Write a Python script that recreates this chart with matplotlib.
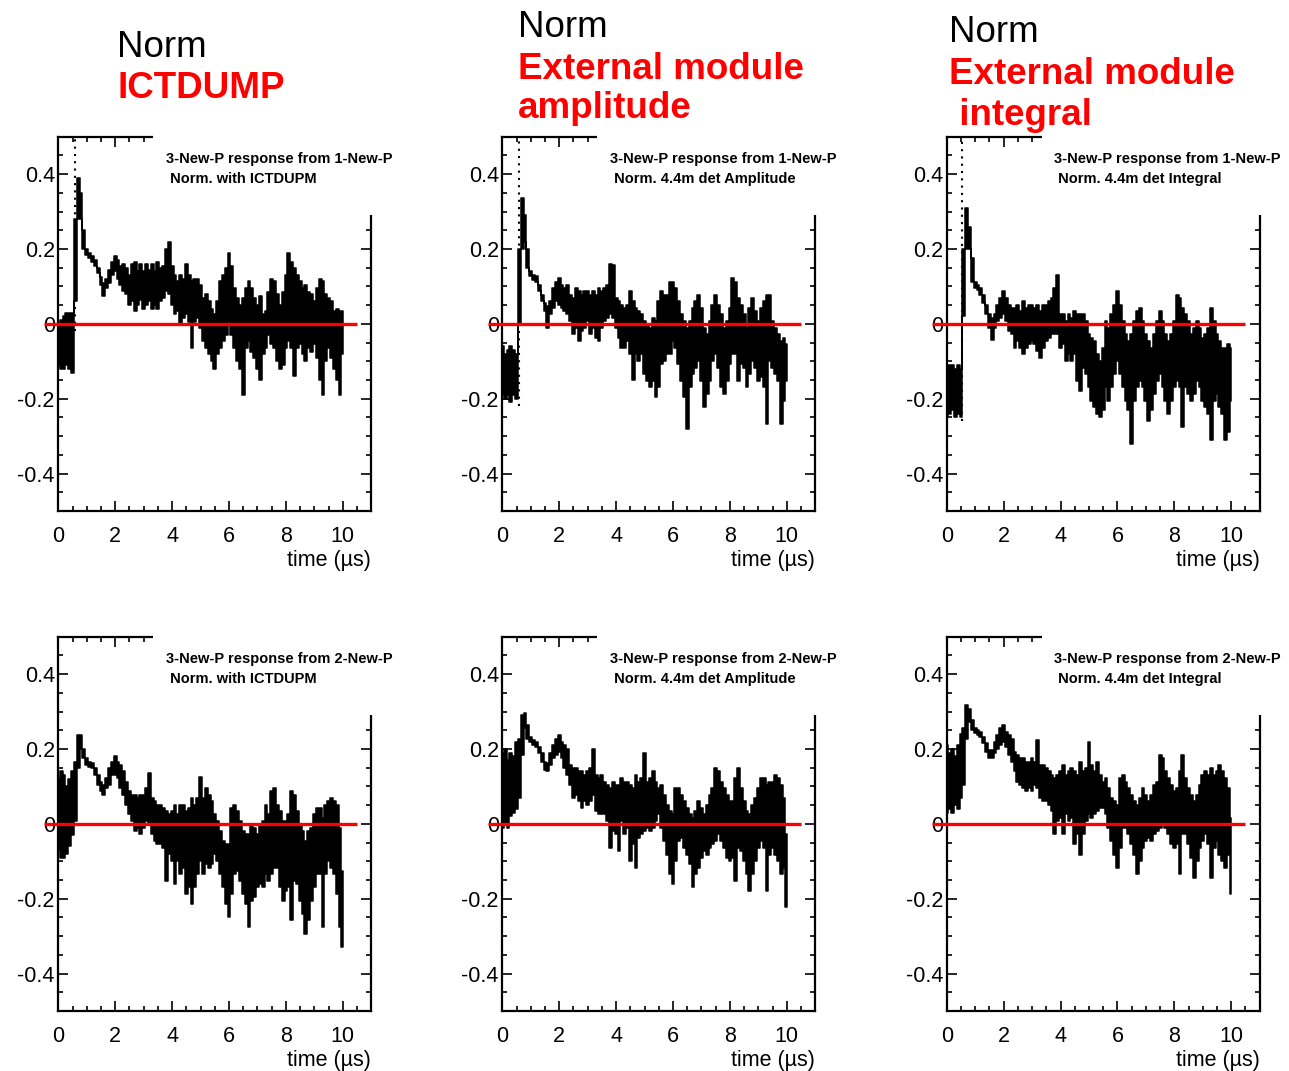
import numpy as np
import matplotlib
matplotlib.use("Agg")
import matplotlib.pyplot as plt
from matplotlib.patches import Rectangle
from matplotlib.ticker import MultipleLocator, FixedLocator

plt.rcParams['font.family'] = ['Liberation Sans', 'DejaVu Sans']
plt.rcParams['axes.unicode_minus'] = False

W, H = 1289, 1071

# sample times (µs), one envelope value every 0.1 µs from 0 to 10
time_us = np.round(np.arange(101) * 0.1, 1)

# per-bin upper / lower envelope of the normalised response
p1_hi = [0.00, 0.01, 0.02, 0.03, 0.03, 0.03, 0.28, 0.39, 0.35, 0.25,
         0.20, 0.19, 0.18, 0.17, 0.15, 0.125, 0.11, 0.12, 0.145, 0.165,
         0.18, 0.17, 0.155, 0.16, 0.15, 0.13, 0.16, 0.165, 0.14, 0.16,
         0.14, 0.16, 0.145, 0.16, 0.14, 0.165, 0.15, 0.155, 0.20, 0.22,
         0.155, 0.13, 0.115, 0.13, 0.12, 0.16, 0.13, 0.115, 0.12, 0.12,
         0.105, 0.07, 0.08, 0.06, 0.04, 0.025, 0.06, 0.115, 0.13, 0.15,
         0.19, 0.155, 0.095, 0.07, 0.05, 0.07, 0.095, 0.115, 0.095, 0.07,
         0.05, 0.075, 0.025, 0.035, 0.085, 0.12, 0.115, 0.08, 0.05, 0.085,
         0.13, 0.19, 0.165, 0.15, 0.13, 0.115, 0.095, 0.105, 0.085, 0.08,
         0.06, 0.095, 0.12, 0.115, 0.08, 0.07, 0.06, 0.035, 0.04, 0.035, 0.035]
p1_lo = [-0.11, -0.12, -0.12, -0.11, -0.12, -0.13, 0.06, 0.28, 0.28, 0.20,
         0.185, 0.175, 0.165, 0.155, 0.135, 0.105, 0.075, 0.095, 0.11, 0.13,
         0.14, 0.12, 0.105, 0.087, 0.08, 0.05, 0.06, 0.035, 0.05, 0.065,
         0.04, 0.05, 0.06, 0.04, 0.05, 0.04, 0.06, 0.07, 0.087, 0.08,
         0.05, 0.025, 0.035, 0.0, 0.015, 0.025, 0.005, -0.065, 0.005, 0.015,
         -0.01, -0.045, -0.065, -0.08, -0.10, -0.12, -0.08, -0.065, -0.045, -0.03,
         0.005, -0.03, -0.065, -0.10, -0.12, -0.19, -0.065, -0.045, -0.075, -0.09,
         -0.12, -0.15, -0.08, -0.065, -0.03, -0.055, -0.065, -0.10, -0.12, -0.11,
         -0.065, -0.045, -0.065, -0.14, -0.065, -0.055, -0.08, -0.10, -0.065, -0.075,
         -0.055, -0.09, -0.15, -0.19, -0.10, -0.065, -0.09, -0.12, -0.15, -0.19, -0.08]

p2_hi = [-0.06, -0.08, -0.07, -0.06, -0.07, -0.08, 0.20, 0.335, 0.29, 0.20,
         0.14, 0.13, 0.127, 0.105, 0.078, 0.056, 0.047, 0.06, 0.095, 0.113,
         0.122, 0.105, 0.095, 0.105, 0.078, 0.07, 0.095, 0.087, 0.078, 0.087,
         0.087, 0.078, 0.087, 0.078, 0.095, 0.087, 0.095, 0.105, 0.16, 0.157,
         0.07, 0.06, 0.05, 0.042, 0.05, 0.087, 0.06, 0.042, 0.034, 0.025,
         0.007, -0.002, -0.01, 0.016, 0.007, 0.06, 0.087, 0.078, 0.078, 0.113,
         0.113, 0.095, 0.06, 0.025, 0.007, -0.01, 0.007, 0.042, 0.06, 0.078,
         0.042, -0.01, -0.028, 0.007, 0.05, 0.078, 0.05, 0.025, -0.01, 0.007,
         0.042, 0.122, 0.113, 0.07, 0.05, 0.025, -0.01, 0.042, 0.07, 0.034,
         0.007, 0.042, 0.06, 0.078, 0.078, 0.007, -0.01, -0.028, -0.046, -0.037, -0.055]
p2_lo = [-0.19, -0.20, -0.19, -0.21, -0.19, -0.20, 0.0, 0.20, 0.22, 0.15,
         0.127, 0.118, 0.113, 0.087, 0.06, 0.034, -0.01, 0.025, 0.042, 0.06,
         0.05, 0.042, 0.034, 0.025, 0.007, -0.028, -0.01, -0.046, -0.02, -0.01,
         0.007, -0.028, -0.01, -0.037, -0.046, -0.01, 0.007, 0.016, 0.025, 0.016,
         -0.01, -0.037, -0.064, -0.064, -0.046, -0.08, -0.15, -0.08, -0.10, -0.08,
         -0.134, -0.152, -0.17, -0.152, -0.196, -0.17, -0.108, -0.10, -0.08, -0.08,
         -0.046, -0.064, -0.108, -0.152, -0.196, -0.28, -0.17, -0.134, -0.117, -0.10,
         -0.152, -0.223, -0.188, -0.152, -0.10, -0.08, -0.117, -0.17, -0.188, -0.152,
         -0.108, -0.08, -0.08, -0.152, -0.108, -0.117, -0.17, -0.134, -0.10, -0.117,
         -0.152, -0.143, -0.17, -0.267, -0.10, -0.117, -0.134, -0.152, -0.267, -0.205, -0.152]

p3_hi = [-0.12, -0.11, -0.11, -0.12, -0.11, -0.12, 0.20, 0.31, 0.26, 0.175,
         0.113, 0.105, 0.095, 0.078, 0.05, 0.025, 0.016, 0.025, 0.05, 0.07,
         0.087, 0.07, 0.05, 0.042, 0.042, 0.05, 0.034, 0.06, 0.042, 0.05,
         0.05, 0.042, 0.05, 0.034, 0.05, 0.05, 0.06, 0.07, 0.095, 0.13,
         0.025, 0.025, 0.007, 0.025, 0.016, 0.034, 0.025, 0.025, 0.025, 0.007,
         -0.028, -0.037, -0.046, -0.08, -0.10, -0.064, 0.007, -0.01, 0.025, 0.05,
         0.087, 0.05, 0.007, -0.028, -0.046, -0.028, 0.007, 0.034, 0.042, 0.007,
         -0.028, -0.046, -0.064, -0.028, 0.007, 0.034, 0.007, -0.028, -0.046, -0.028,
         0.007, 0.078, 0.07, 0.042, 0.025, 0.007, -0.028, -0.01, 0.007, -0.01,
         -0.037, -0.028, -0.01, 0.042, 0.007, -0.028, -0.046, -0.064, -0.064, -0.055, -0.064]
p3_lo = [-0.25, -0.24, -0.23, -0.25, -0.24, -0.25, 0.02, 0.20, 0.20, 0.113,
         0.095, 0.09, 0.078, 0.056, 0.025, -0.01, -0.042, -0.01, 0.007, 0.016,
         0.025, 0.007, -0.02, -0.028, -0.064, -0.046, -0.064, -0.08, -0.064, -0.055,
         -0.046, -0.055, -0.073, -0.09, -0.064, -0.046, -0.037, -0.028, -0.028, -0.028,
         -0.064, -0.055, -0.10, -0.08, -0.10, -0.08, -0.152, -0.18, -0.117, -0.134,
         -0.17, -0.205, -0.223, -0.24, -0.25, -0.23, -0.17, -0.205, -0.17, -0.134,
         -0.10, -0.134, -0.17, -0.205, -0.23, -0.32, -0.205, -0.17, -0.152, -0.17,
         -0.205, -0.26, -0.23, -0.188, -0.152, -0.134, -0.17, -0.205, -0.24, -0.205,
         -0.17, -0.152, -0.17, -0.276, -0.17, -0.188, -0.205, -0.188, -0.152, -0.17,
         -0.205, -0.223, -0.24, -0.31, -0.205, -0.188, -0.223, -0.24, -0.31, -0.29, -0.205]

p4_hi = [0.12, 0.14, 0.13, 0.10, 0.12, 0.14, 0.166, 0.237, 0.237, 0.20,
         0.175, 0.166, 0.162, 0.149, 0.131, 0.113, 0.104, 0.122, 0.149, 0.166,
         0.18, 0.166, 0.158, 0.14, 0.113, 0.087, 0.078, 0.078, 0.069, 0.078,
         0.078, 0.096, 0.135, 0.069, 0.06, 0.051, 0.051, 0.042, 0.033, 0.025,
         0.033, 0.051, 0.025, 0.051, 0.051, 0.033, 0.042, 0.069, 0.051, 0.069,
         0.126, 0.069, 0.096, 0.078, 0.06, 0.025, 0.007, -0.02, -0.046, -0.055,
         -0.055, 0.042, 0.051, 0.033, 0.007, -0.02, -0.028, -0.028, -0.002, -0.01,
         -0.028, -0.002, 0.007, 0.051, 0.025, 0.087, 0.096, 0.051, 0.033, 0.007,
         0.007, 0.025, 0.087, 0.078, 0.033, -0.002, -0.02, -0.046, -0.02, -0.01,
         0.025, 0.042, 0.042, 0.016, 0.051, 0.06, 0.069, 0.06, 0.051, -0.01, -0.126]
p4_lo = [-0.07, -0.09, -0.09, -0.08, -0.06, -0.03, 0.007, 0.15, 0.20, 0.175,
         0.158, 0.153, 0.149, 0.131, 0.104, 0.087, 0.078, 0.096, 0.104, 0.131,
         0.131, 0.122, 0.096, 0.078, 0.051, 0.025, 0.007, -0.02, -0.01, -0.028,
         -0.01, 0.007, -0.002, -0.028, -0.046, -0.055, -0.055, -0.064, -0.152, -0.081,
         -0.10, -0.16, -0.10, -0.135, -0.117, -0.188, -0.17, -0.215, -0.17, -0.135,
         -0.10, -0.135, -0.108, -0.117, -0.108, -0.081, -0.10, -0.135, -0.17, -0.215,
         -0.25, -0.188, -0.135, -0.126, -0.152, -0.188, -0.215, -0.276, -0.205, -0.196,
         -0.17, -0.16, -0.17, -0.135, -0.152, -0.135, -0.117, -0.117, -0.17, -0.205,
         -0.18, -0.17, -0.258, -0.152, -0.16, -0.205, -0.24, -0.294, -0.258, -0.205,
         -0.17, -0.135, -0.135, -0.276, -0.135, -0.10, -0.117, -0.135, -0.188, -0.276, -0.33]

p5_hi = [0.19, 0.20, 0.17, 0.19, 0.18, 0.22, 0.228, 0.29, 0.295, 0.264,
         0.233, 0.224, 0.22, 0.206, 0.188, 0.166, 0.162, 0.188, 0.21, 0.228,
         0.237, 0.22, 0.21, 0.20, 0.158, 0.149, 0.149, 0.14, 0.14, 0.131,
         0.14, 0.149, 0.20, 0.131, 0.122, 0.131, 0.113, 0.104, 0.096, 0.113,
         0.104, 0.104, 0.122, 0.113, 0.113, 0.104, 0.096, 0.131, 0.113, 0.122,
         0.188, 0.113, 0.122, 0.14, 0.113, 0.096, 0.104, 0.078, 0.051, 0.033,
         0.025, 0.096, 0.096, 0.078, 0.06, 0.042, 0.025, 0.016, 0.033, 0.06,
         0.042, 0.025, 0.051, 0.078, 0.096, 0.149, 0.14, 0.113, 0.096, 0.078,
         0.06, 0.06, 0.122, 0.149, 0.096, 0.06, 0.033, 0.025, 0.051, 0.069,
         0.096, 0.122, 0.122, 0.104, 0.113, 0.113, 0.131, 0.122, 0.104, 0.069, -0.028]
p5_lo = [-0.01, 0.00, -0.01, 0.02, 0.03, 0.04, 0.069, 0.184, 0.255, 0.228,
         0.22, 0.21, 0.206, 0.188, 0.166, 0.144, 0.14, 0.158, 0.175, 0.184,
         0.193, 0.175, 0.149, 0.131, 0.104, 0.069, 0.078, 0.06, 0.042, 0.06,
         0.051, 0.06, 0.078, 0.033, 0.025, 0.025, 0.025, 0.007, -0.064, -0.02,
         -0.028, -0.073, 0.007, -0.028, -0.01, -0.10, -0.055, -0.117, -0.037, -0.028,
         -0.02, -0.01, -0.02, -0.01, 0.007, 0.025, -0.01, -0.046, -0.082, -0.135,
         -0.16, -0.10, -0.046, -0.037, -0.064, -0.082, -0.108, -0.17, -0.135, -0.117,
         -0.091, -0.073, -0.082, -0.064, -0.055, -0.046, -0.028, -0.046, -0.064, -0.091,
         -0.10, -0.091, -0.152, -0.064, -0.073, -0.10, -0.135, -0.18, -0.135, -0.10,
         -0.064, -0.046, -0.064, -0.18, -0.082, -0.064, -0.082, -0.10, -0.135, -0.117, -0.223]

p6_hi = [0.21, 0.19, 0.20, 0.18, 0.21, 0.24, 0.255, 0.317, 0.308, 0.277,
         0.255, 0.25, 0.246, 0.233, 0.215, 0.197, 0.197, 0.219, 0.237, 0.255,
         0.264, 0.246, 0.237, 0.228, 0.193, 0.184, 0.175, 0.175, 0.166, 0.166,
         0.175, 0.166, 0.224, 0.158, 0.158, 0.149, 0.14, 0.131, 0.122, 0.131,
         0.14, 0.158, 0.131, 0.14, 0.149, 0.14, 0.131, 0.166, 0.14, 0.149,
         0.219, 0.158, 0.14, 0.166, 0.131, 0.113, 0.122, 0.096, 0.069, 0.06,
         0.051, 0.122, 0.131, 0.113, 0.096, 0.078, 0.06, 0.051, 0.069, 0.096,
         0.078, 0.06, 0.078, 0.104, 0.113, 0.184, 0.175, 0.14, 0.122, 0.104,
         0.087, 0.096, 0.14, 0.184, 0.122, 0.096, 0.078, 0.06, 0.078, 0.104,
         0.131, 0.14, 0.131, 0.149, 0.131, 0.14, 0.158, 0.14, 0.122, 0.096, 0.016]
p6_lo = [0.03, 0.04, 0.03, 0.05, 0.04, 0.07, 0.104, 0.228, 0.273, 0.25,
         0.242, 0.237, 0.233, 0.215, 0.193, 0.175, 0.175, 0.188, 0.20, 0.21,
         0.22, 0.206, 0.184, 0.166, 0.14, 0.113, 0.104, 0.096, 0.087, 0.096,
         0.087, 0.104, 0.096, 0.069, 0.06, 0.06, 0.051, 0.033, -0.028, 0.007,
         0.016, -0.028, 0.025, 0.007, 0.016, -0.055, -0.028, -0.082, -0.028, 0.007,
         0.025, 0.016, 0.025, 0.033, 0.042, 0.042, 0.025, -0.01, -0.046, -0.082,
         -0.117, -0.064, -0.01, -0.01, -0.028, -0.055, -0.082, -0.135, -0.10, -0.064,
         -0.046, -0.037, -0.046, -0.028, -0.02, -0.01, -0.002, -0.01, -0.028, -0.055,
         -0.064, -0.055, -0.135, -0.028, -0.028, -0.055, -0.091, -0.144, -0.10, -0.064,
         -0.046, -0.028, -0.055, -0.144, -0.064, -0.046, -0.082, -0.10, -0.117, -0.082, -0.188]

# sparse leading edge of the pulse in the upper row: (time, low, high)
rise_edges = [(0.57, -0.02, 0.50), (0.58, -0.22, 0.50), (0.55, -0.26, 0.50),
              None, None, None]

source_labels = ["3-New-P response from 1-New-P"] * 3 + ["3-New-P response from 2-New-P"] * 3
norm_labels = [" Norm. with ICTDUPM", " Norm. 4.4m det Amplitude", " Norm. 4.4m det Integral"] * 2

x_ticks = [0, 2, 4, 6, 8, 10]
x_tick_labels = ["0", "2", "4", "6", "8", "10"]
y_ticks = [-0.4, -0.2, 0.0, 0.2, 0.4]
y_tick_labels = ["-0.4", "-0.2", "0", "0.2", "0.4"]

panels = [(p1_lo, p1_hi), (p2_lo, p2_hi), (p3_lo, p3_hi),
          (p4_lo, p4_hi), (p5_lo, p5_hi), (p6_lo, p6_hi)]

fig = plt.figure(figsize=(W / 100, H / 100), dpi=100)

col_left = [58.3, 502.3, 946.7]
row_top = [136.7, 636.7]
ax_w, ax_h = 313.0, 374.3

for i, (lo, hi) in enumerate(panels):
    r, c = divmod(i, 3)
    ax = fig.add_axes([col_left[c] / W, 1 - (row_top[r] + ax_h) / H, ax_w / W, ax_h / H])
    ax.set_xlim(0, 11)
    ax.set_ylim(-0.5, 0.5)

    ax.fill_between(time_us, lo, hi, step='mid', facecolor='black',
                    edgecolor='black', lw=1.1, zorder=2)
    edge = rise_edges[i]
    if edge is not None:
        ax.vlines(edge[0], edge[1], edge[2], colors='black', lw=1.5,
                  linestyles=(0, (1.0, 2.5)), zorder=2)

    ax.plot([-0.5, 10.5], [0, 0], color='#ff0000', lw=2.4, clip_on=False,
            zorder=4, solid_capstyle='butt')

    ax.xaxis.set_major_locator(FixedLocator(x_ticks))
    ax.set_xticklabels(x_tick_labels)
    ax.xaxis.set_minor_locator(MultipleLocator(0.5))
    ax.yaxis.set_major_locator(FixedLocator(y_ticks))
    ax.set_yticklabels(y_tick_labels)
    ax.yaxis.set_minor_locator(MultipleLocator(0.05))
    ax.tick_params(which='both', direction='in', top=True, right=True,
                   width=1.2, labelsize=15.5, colors='black')
    ax.tick_params(which='major', length=7.5)
    ax.tick_params(which='minor', length=3.8)
    ax.tick_params(axis='x', which='major', pad=10.5)
    ax.tick_params(axis='y', which='major', pad=2.5)
    for sp in ax.spines.values():
        sp.set_linewidth(1.6)

    # caption box sits over the top-right corner of the frame
    ax.add_patch(Rectangle((0.303, 0.792), 0.9, 0.3, transform=ax.transAxes,
                           facecolor='white', edgecolor='none', clip_on=False, zorder=5))
    ax.text(0.344, 0.9305, source_labels[i], transform=ax.transAxes, fontsize=10.5,
            fontweight='bold', ha='left', va='baseline', zorder=6)
    ax.text(0.344, 0.877, norm_labels[i], transform=ax.transAxes, fontsize=10.5,
            fontweight='bold', ha='left', va='baseline', zorder=6)

    ax.text(1.0, -0.148, "time (µs)", transform=ax.transAxes, fontsize=15.5,
            ha='right', va='baseline')

# column headers
def header(x, y, s, color='black', bold=False):
    fig.text(x / W, 1 - y / H, s, fontsize=26.5, color=color,
             fontweight='bold' if bold else 'normal', ha='left', va='baseline')

header(117, 57, "Norm")
header(117, 98, "ICTDUMP", '#ff0000', True)
header(518, 37, "Norm")
header(518, 79, "External module", '#ff0000', True)
header(518, 118, "amplitude", '#ff0000', True)
header(949, 42, "Norm")
header(949, 84, "External module", '#ff0000', True)
header(949, 125, " integral", '#ff0000', True)

fig.savefig("out.png", dpi=100, facecolor='white')
